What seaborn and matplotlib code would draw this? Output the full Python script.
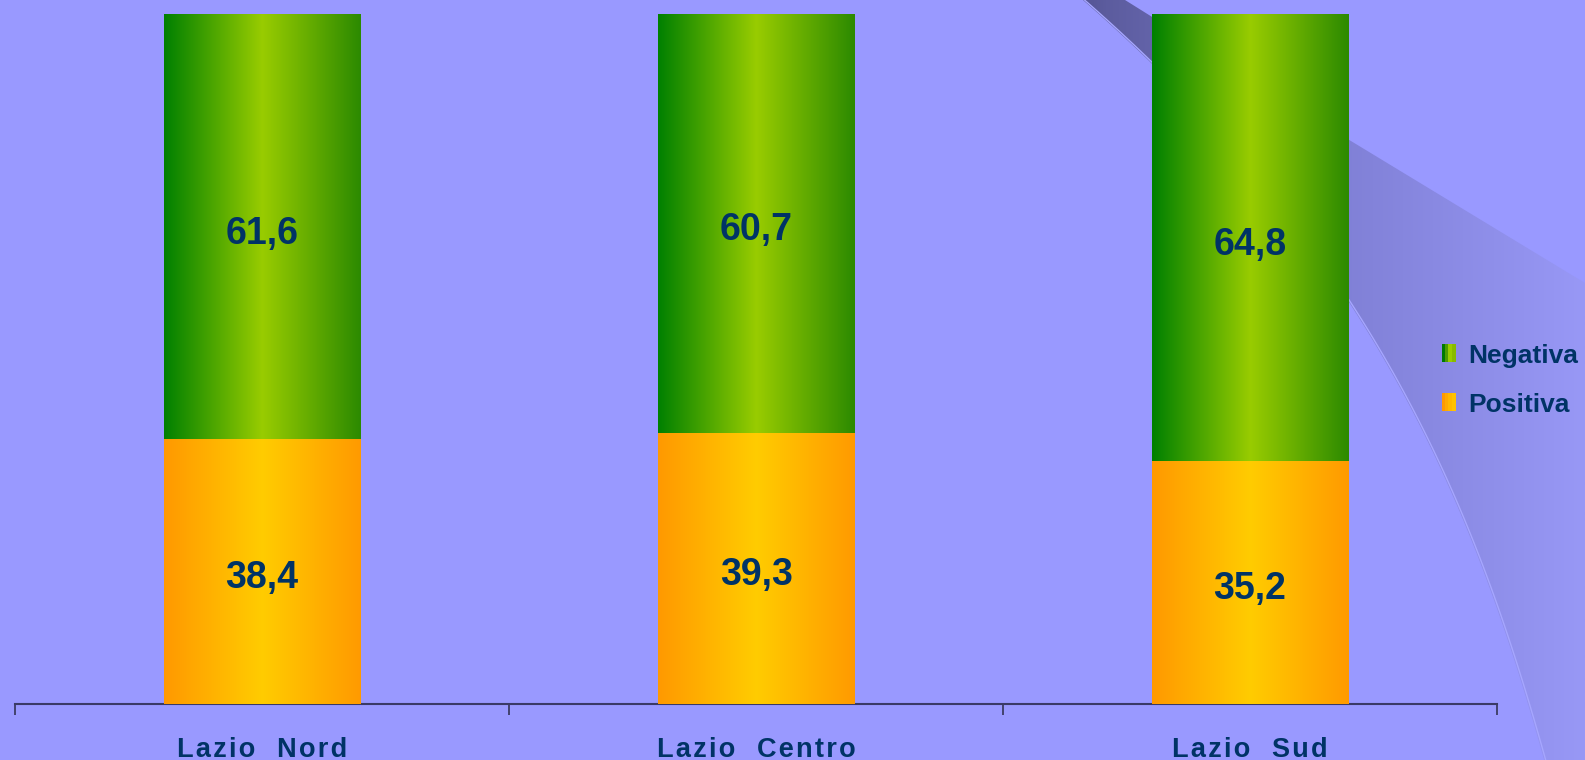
import numpy as np
import matplotlib
matplotlib.use("Agg")
import matplotlib.pyplot as plt
import seaborn as sns
from matplotlib.colors import to_rgb
from matplotlib.patches import Rectangle, Polygon
from matplotlib.legend_handler import HandlerBase
from matplotlib.transforms import offset_copy

# ---- data ----
categories = ["Lazio  Nord", "Lazio  Centro", "Lazio  Sud"]
positiva = [38.4, 39.3, 35.2]
negativa = [61.6, 60.7, 64.8]
series_names = ["Negativa", "Positiva"]
value_labels_pos = ["38,4", "39,3", "35,2"]
value_labels_neg = ["61,6", "60,7", "64,8"]

BG = "#9999FF"
TXT = "#003366"
GREEN_STOPS = [(0.0, "#008000"), (0.5, "#99CC00"), (1.0, "#2C8A00")]
ORANGE_STOPS = [(0.0, "#FF9900"), (0.5, "#FFCC00"), (1.0, "#FF9A00")]

W, H = 1585, 760
fig = plt.figure(figsize=(W / 100, H / 100), dpi=100, facecolor=BG)
plt.rcParams["font.family"] = ["Liberation Sans", "DejaVu Sans"]


def grad(stops, n=256):
    xs = np.linspace(0, 1, n)
    pos = [s[0] for s in stops]
    cols = np.array([to_rgb(s[1]) for s in stops])
    arr = np.stack([np.interp(xs, pos, cols[:, k]) for k in range(3)], axis=-1)
    return arr[None, :, :]


def spaced(s, sp="\u200a"):
    return sp.join(list(s))


# ---- background decoration (swoosh) ----
bg = fig.add_axes([0, 0, 1, 1], zorder=-10)
bg.set_xlim(0, W)
bg.set_ylim(H, 0)
bg.axis("off")
ctrl_y = np.array([0, 61, 175, 297, 320, 420, 540, 650, 760], dtype=float)
ctrl_x = np.array([1084, 1149, 1252, 1346, 1363, 1418, 1470, 1510, 1545], dtype=float)
coef = np.polyfit(ctrl_y, ctrl_x, 3)
ys = np.linspace(0, 760, 120)
xs = np.polyval(coef, ys)
lower = list(zip(xs, ys))
upper = [(1125, 0), (1149, 15), (1346, 138), (1585, 283)]
poly_pts = upper + [(1585, 760)] + lower[::-1]
sw = Polygon(poly_pts, closed=True, facecolor="none", edgecolor="none")
bg.add_patch(sw)
sw_grad = grad([(0.0, "#545494"), (0.05, "#5C5C9E"), (0.52, "#8080D6"), (1.0, "#9898F6")])
im = bg.imshow(sw_grad, extent=(1080, 1585, 760, 0), aspect="auto", zorder=1)
im.set_clip_path(sw)
bg.plot(xs + 1.5, ys, color="#A6A6FF", lw=1.0, zorder=2)
bg.set_xlim(0, W)
bg.set_ylim(H, 0)

# ---- main axes ----
ax = fig.add_axes([15.2 / W, 1 - 703.5 / H, (1497 - 15.2) / W, (703.5 - 14.2) / H])
ax.set_facecolor("none")

totals = [p + n for p, n in zip(positiva, negativa)]
sns.barplot(x=categories, y=totals, color="#66AA00", width=0.397, ax=ax, saturation=1)
sns.barplot(x=categories, y=positiva, color="#FFAA00", width=0.397, ax=ax, saturation=1)

patches = list(ax.patches)
n = len(categories)
for i, p in enumerate(patches):
    x0, y0 = p.get_x(), p.get_y()
    w, h = p.get_width(), p.get_height()
    stops = GREEN_STOPS if i < n else ORANGE_STOPS
    ax.imshow(grad(stops), extent=(x0, x0 + w, y0, y0 + h), aspect="auto",
              zorder=2 if i < n else 3, interpolation="bilinear")
    p.set_facecolor("none")
    p.set_edgecolor("none")

ax.set_xlim(-0.5, n - 0.5)
ax.set_ylim(0, 100)

tr = offset_copy(ax.transData, fig=fig, x=0, y=-7, units="dots")
for i in range(n):
    ax.text(i, positiva[i] / 2, value_labels_pos[i], ha="center", va="center",
            fontsize=27, fontweight="bold", color=TXT, zorder=5, transform=tr)
    ax.text(i, positiva[i] + negativa[i] / 2, value_labels_neg[i], ha="center", va="center",
            fontsize=27, fontweight="bold", color=TXT, zorder=5, transform=tr)

for s in ["top", "left", "right"]:
    ax.spines[s].set_visible(False)
ax.spines["bottom"].set_color("#3A3A66")
ax.spines["bottom"].set_linewidth(1.5)
ax.set_yticks([])
ax.set_xticks(np.arange(-0.5, n, 1.0))
ax.set_xticklabels([])
ax.set_xticks(np.arange(n), minor=True)
ax.set_xticklabels([spaced(c) for c in categories], minor=True)
ax.tick_params(axis="x", which="major", length=8, width=1.2, color="#333355", direction="out")
ax.tick_params(axis="x", which="minor", length=0, pad=24, labelsize=19.5, labelcolor=TXT)
for t in ax.get_xticklabels(minor=True):
    t.set_fontweight("bold")
ax.set_xlabel("")
ax.set_ylabel("")


# ---- legend ----
class StripeHandler(HandlerBase):
    def __init__(self, colors):
        super().__init__()
        self.colors = colors

    def create_artists(self, legend, orig_handle, xdescent, ydescent, width, height, fontsize, trans):
        arts = []
        k = len(self.colors)
        for j, c in enumerate(self.colors):
            r = Rectangle((-xdescent + j * width / k, -ydescent), width / k + 0.3, height,
                          facecolor=c, edgecolor="none", transform=trans)
            arts.append(r)
        return arts


h_neg = Rectangle((0, 0), 1, 1)
h_pos = Rectangle((0, 0), 1, 1)
leg = ax.legend([h_neg, h_pos], series_names, loc="upper left",
                bbox_to_anchor=(1431 / W, 1 - 333 / H), bbox_transform=fig.transFigure,
                frameon=False, fontsize=19, handlelength=0.52, handleheight=0.68,
                handletextpad=0.5, labelspacing=0.95, borderaxespad=0, borderpad=0.4,
                handler_map={h_neg: StripeHandler(["#007A00", "#4C9C00", "#99CC00", "#88BB00"]),
                             h_pos: StripeHandler(["#FF9900", "#FFAA00", "#FFB800", "#FFC200"])})
for t in leg.get_texts():
    t.set_fontweight("bold")
    t.set_color(TXT)

fig.savefig("out.png", dpi=100, facecolor=BG)
